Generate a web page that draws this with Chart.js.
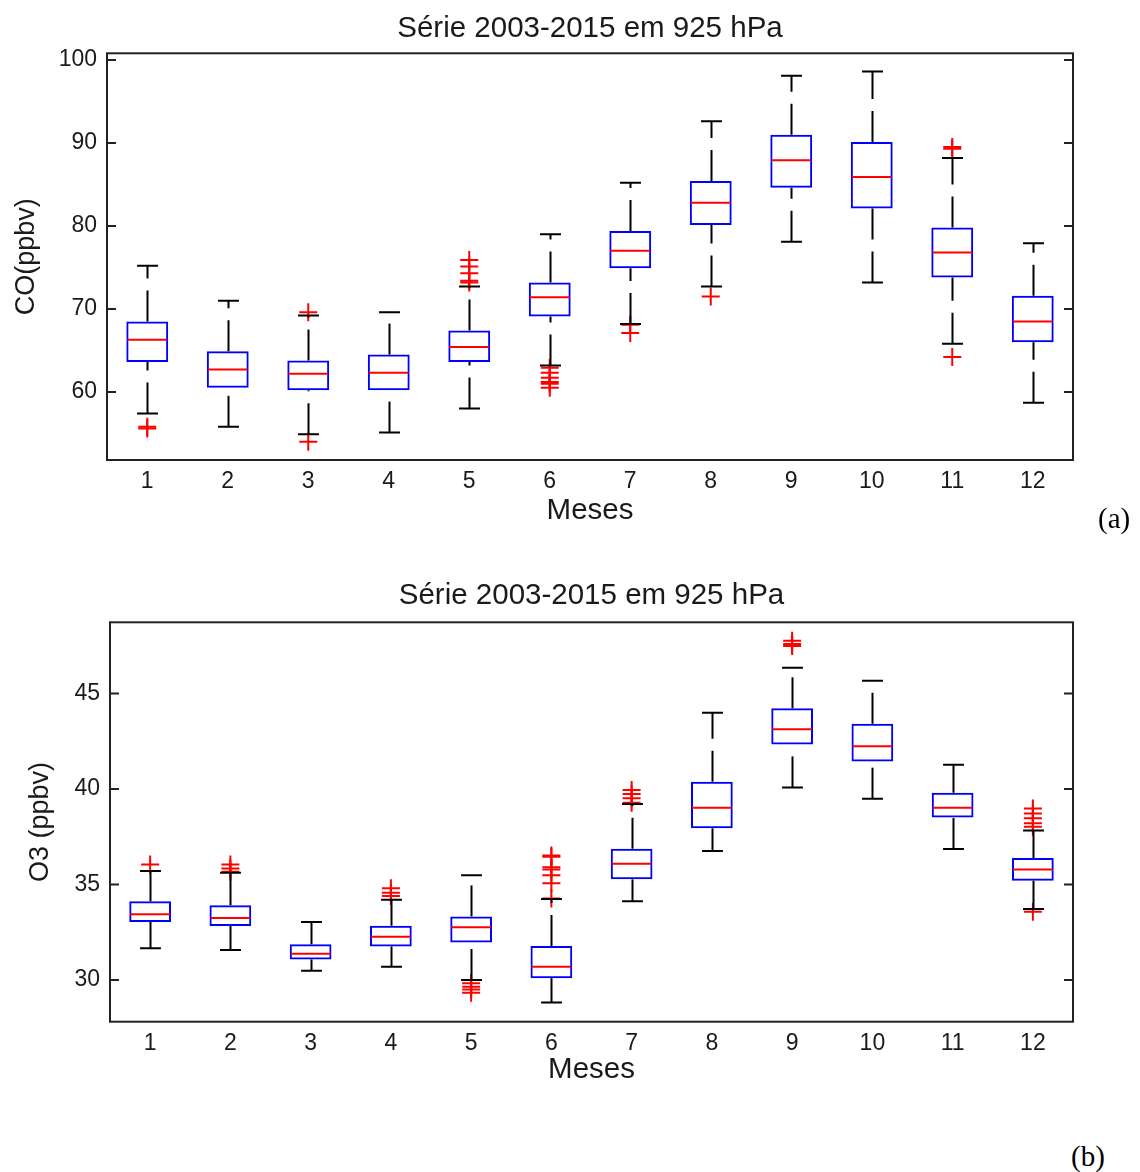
<!DOCTYPE html>
<html>
<head>
<meta charset="utf-8">
<script src="https://cdn.jsdelivr.net/npm/chart.js@4.4.0/dist/chart.umd.min.js"></script>
<style>
  html, body { margin: 0; padding: 0; background: #fff; overflow: hidden; }
  #wrap { position: relative; width: 1140px; height: 1172px; }
  canvas { position: absolute; left: 0; }
  .tag { position: absolute; font-family: "Liberation Serif", "Times New Roman", serif; font-size: 29px; color: #000; line-height: normal; }
</style>
</head>
<body>
<div id="wrap">
  <canvas id="coChart" width="1180" height="540" style="top:0"></canvas>
  <canvas id="o3Chart" width="1183" height="530" style="top:570px"></canvas>
  <div class="tag" style="left:1098px; top:502px">(a)</div>
  <div class="tag" style="left:1071px; top:1140px">(b)</div>
</div>
<script>
"use strict";

const months = ["1", "2", "3", "4", "5", "6", "7", "8", "9", "10", "11", "12"];

// CO (ppbv) - boxplot stats per month
const coLow = [57.4, 55.8, 54.9, 55.1, 58.0, 63.2, 68.2, 72.7, 78.1, 73.2, 65.8, 58.7];
const coQ1 = [63.6, 60.5, 60.2, 60.2, 63.6, 69.1, 74.9, 80.1, 84.6, 82.1, 73.8, 66.0];
const coMed = [66.3, 62.7, 62.2, 62.3, 65.4, 71.4, 77.0, 82.8, 87.9, 85.9, 76.8, 68.5];
const coQ3 = [68.5, 64.9, 63.8, 64.5, 67.4, 73.2, 79.4, 85.4, 91.0, 90.1, 79.8, 71.6];
const coHigh = [75.2, 71.0, 69.2, 69.6, 72.7, 79.0, 85.2, 92.6, 98.1, 98.6, 88.2, 77.9];
const coOut = [
  [55.6, 55.8], [], [69.6, 54.0], [],
  [73.2, 73.4, 74.3, 75.1, 75.9],
  [62.9, 62.3, 61.7, 61.2, 61.0, 60.5],
  [68.1, 67.1], [71.5], [], [], [89.3, 89.5, 64.2], []
];
const coTicks = [60, 70, 80, 90, 100];

// O3 (ppbv) - boxplot stats per month
const o3Low = [31.66, 31.57, 30.49, 30.70, 30.00, 28.83, 34.12, 36.75, 40.08, 39.49, 36.86, 33.72];
const o3Q1 = [33.04, 32.83, 31.08, 31.76, 31.97, 30.10, 35.27, 37.94, 42.33, 41.44, 38.51, 35.20];
const o3Med = [33.44, 33.24, 31.38, 32.27, 32.76, 30.70, 36.09, 39.02, 43.12, 42.24, 39.02, 35.79];
const o3Q3 = [34.12, 33.92, 31.87, 32.84, 33.33, 31.78, 36.87, 40.38, 44.22, 43.41, 39.80, 36.38];
const o3High = [35.70, 35.62, 33.04, 34.20, 35.49, 34.24, 39.21, 43.99, 46.34, 45.66, 41.27, 37.83];
const o3Out = [
  [36.05], [36.05, 35.84, 35.67], [], [34.40, 34.57, 34.80],
  [29.83, 29.65, 29.51, 29.34],
  [34.27, 35.06, 35.49, 35.79, 35.90, 36.45, 36.52],
  [39.28, 39.51, 39.73, 39.94], [], [47.48, 47.58, 47.76], [], [],
  [38.02, 38.20, 38.46, 38.72, 38.98, 33.58]
];
const o3Ticks = [30, 35, 40, 45];

Chart.defaults.font.family = "'Liberation Sans', Arial, sans-serif";
Chart.defaults.color = "#1a1a1a";

// whiskers, caps, medians, frame and inward y ticks
function boxPlugin(low, med, high, tickVals) {
  return {
    id: "boxPlot",
    afterDatasetsDraw(chart) {
      const { ctx, scales: { x, y } } = chart;
      const bars = chart.getDatasetMeta(0).data;
      ctx.save();
      ctx.lineWidth = 2;
      bars.forEach((bar, i) => {
        const cx = Math.round(x.getPixelForValue(i)) + 0.5;
        const half = bar.width / 2;
        const pLow = y.getPixelForValue(low[i]);
        const pHigh = y.getPixelForValue(high[i]);
        const pTop = Math.min(bar.y, bar.base);
        const pBot = Math.max(bar.y, bar.base);
        ctx.strokeStyle = "#000";
        ctx.setLineDash([31, 12]);
        ctx.beginPath();
        ctx.moveTo(cx, pLow);
        ctx.lineTo(cx, pBot);
        ctx.stroke();
        ctx.beginPath();
        ctx.moveTo(cx, pTop);
        ctx.lineTo(cx, pHigh);
        ctx.stroke();
        ctx.setLineDash([]);
        ctx.beginPath();
        ctx.moveTo(cx - half / 2, pLow);
        ctx.lineTo(cx + half / 2, pLow);
        ctx.moveTo(cx - half / 2, pHigh);
        ctx.lineTo(cx + half / 2, pHigh);
        ctx.stroke();
        const pMed = y.getPixelForValue(med[i]);
        ctx.strokeStyle = "#ff0000";
        ctx.beginPath();
        ctx.moveTo(bar.x - half + 1, pMed);
        ctx.lineTo(bar.x + half - 1, pMed);
        ctx.stroke();
      });
      ctx.restore();
    },
    afterDraw(chart) {
      const { ctx, chartArea: a, scales: { y } } = chart;
      ctx.save();
      ctx.strokeStyle = "#222";
      ctx.lineWidth = 2;
      ctx.strokeRect(a.left, a.top, a.right - a.left, a.bottom - a.top);
      ctx.beginPath();
      tickVals.forEach((v) => {
        const py = y.getPixelForValue(v);
        ctx.moveTo(a.left, py);
        ctx.lineTo(a.left + 9, py);
        ctx.moveTo(a.right, py);
        ctx.lineTo(a.right - 9, py);
      });
      ctx.stroke();
      ctx.restore();
    },
  };
}

function outlierPoints(out) {
  const pts = [];
  out.forEach((vals, i) => vals.forEach((v) => pts.push({ x: months[i], y: v })));
  return pts;
}

function makeChart(id, cfg) {
  const ctx = document.getElementById(id).getContext("2d");
  return new Chart(ctx, {
    type: "bar",
    data: {
      labels: months,
      datasets: [
        {
          label: "box",
          data: cfg.q1.map((v, i) => [v, cfg.q3[i]]),
          backgroundColor: "rgba(255,255,255,0)",
          borderColor: "#0000ff",
          borderWidth: 2,
          borderSkipped: false,
          barPercentage: 0.52,
          categoryPercentage: 1,
        },
        {
          type: "line",
          label: "outliers",
          data: outlierPoints(cfg.out),
          showLine: false,
          pointStyle: "cross",
          pointRadius: 9,
          pointBorderWidth: 2,
          borderColor: "#ff0000",
          backgroundColor: "#ff0000",
        },
      ],
    },
    options: {
      responsive: false,
      animation: false,
      events: [],
      layout: { padding: 0 },
      plugins: {
        legend: { display: false },
        tooltip: { enabled: false },
        title: {
          display: true,
          text: "Série 2003-2015 em 925 hPa",
          color: "#1a1a1a",
          font: { size: 29.5, weight: "normal" },
          padding: { top: cfg.titleTop, bottom: cfg.titleBottom },
        },
      },
      scales: {
        x: {
          type: "category",
          offset: true,
          afterFit: (s) => { s.height = cfg.xHeight; },
          grid: { display: false, drawTicks: false },
          border: { display: false },
          ticks: { padding: 8, font: { size: 23 } },
          title: {
            display: true,
            text: "Meses",
            color: "#1a1a1a",
            font: { size: 29.5 },
            padding: { top: 0, bottom: cfg.xTitlePad },
          },
        },
        y: {
          min: cfg.min,
          max: cfg.max,
          afterBuildTicks: (s) => { s.ticks = cfg.ticks.map((v) => ({ value: v })); },
          afterFit: (s) => { s.width = cfg.yWidth; },
          grid: { display: false, drawTicks: false },
          border: { display: false },
          ticks: { padding: 10, font: { size: 23 } },
          title: {
            display: true,
            text: cfg.yTitle,
            color: "#1a1a1a",
            font: { size: 27 },
            padding: { top: cfg.yTitlePad, bottom: 0 },
          },
        },
        // empty right axis, keeps the plot centred under the title
        yRight: {
          position: "right",
          min: cfg.min,
          max: cfg.max,
          afterFit: (s) => { s.width = cfg.yWidth; },
          grid: { display: false, drawTicks: false },
          border: { display: false },
          ticks: { display: false },
        },
      },
    },
    plugins: [boxPlugin(cfg.low, cfg.med, cfg.high, cfg.ticks)],
  });
}

makeChart("coChart", {
  low: coLow, q1: coQ1, med: coMed, q3: coQ3, high: coHigh, out: coOut, ticks: coTicks,
  min: 51.8, max: 100.8, yTitle: "CO(ppbv)",
  yWidth: 107, xHeight: 80, xTitlePad: 11.5, yTitlePad: 10,
  titleTop: 11.3, titleBottom: 6.6,
});

makeChart("o3Chart", {
  low: o3Low, q1: o3Q1, med: o3Med, q3: o3Q3, high: o3High, out: o3Out, ticks: o3Ticks,
  min: 27.82, max: 48.72, yTitle: "O3 (ppbv)",
  yWidth: 110, xHeight: 78.3, xTitlePad: 12, yTitlePad: 24,
  titleTop: 8, titleBottom: 8.9,
});
</script>
</body>
</html>
